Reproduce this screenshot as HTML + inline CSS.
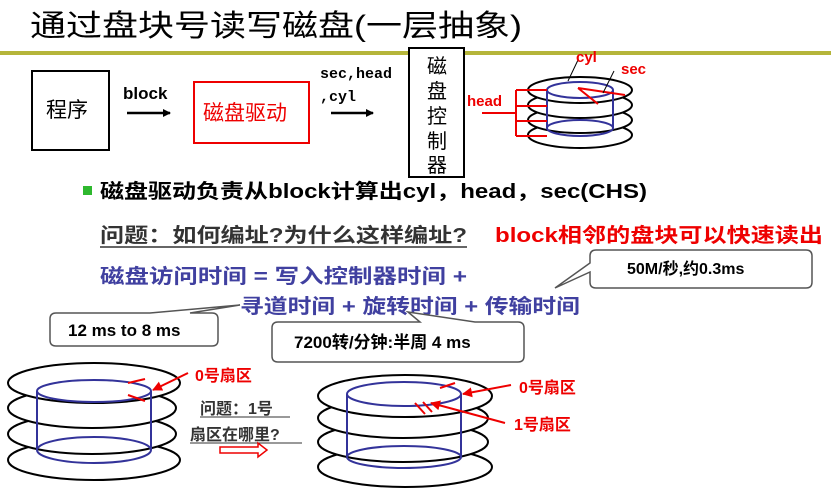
<!DOCTYPE html>
<html><head><meta charset="utf-8"><style>
body{margin:0;background:#fff;}
svg{display:block;font-family:"Liberation Sans","Noto Sans CJK SC",sans-serif;}
</style></head><body>
<svg width="831" height="492" viewBox="0 0 831 492">
<defs><marker id="ar" markerWidth="8" markerHeight="8" refX="7" refY="4" orient="auto" markerUnits="userSpaceOnUse"><path d="M0,0 L8,4 L0,8z" fill="#000"/></marker>
<marker id="rr" markerWidth="10" markerHeight="10" refX="9" refY="5" orient="auto" markerUnits="userSpaceOnUse"><path d="M0,0 L10,5 L0,10z" fill="#e00"/></marker></defs>
<text x="30" y="36" font-size="30" fill="#000" textLength="492" lengthAdjust="spacingAndGlyphs">通过盘块号读写磁盘(一层抽象)</text>
<rect x="0" y="51" width="831" height="4" fill="#b5b53a"/>
<rect x="32" y="71" width="77" height="79" fill="#fff" stroke="#000" stroke-width="2"/>
<text x="46" y="117" font-size="21">程序</text>
<text x="123" y="99" font-size="17" font-weight="bold">block</text>
<line x1="127" y1="113" x2="170" y2="113" stroke="#000" stroke-width="2.5" marker-end="url(#ar)"/>
<rect x="194" y="82" width="115" height="61" fill="#fff" stroke="#e00" stroke-width="2"/>
<text x="203" y="120" font-size="21" fill="#e00">磁盘驱动</text>
<text x="320" y="78" font-size="15" font-family="Liberation Mono,monospace" font-weight="bold">sec,head</text>
<text x="320" y="101" font-size="15" font-family="Liberation Mono,monospace" font-weight="bold">,cyl</text>
<line x1="331" y1="113" x2="373" y2="113" stroke="#000" stroke-width="2.5" marker-end="url(#ar)"/>
<rect x="409" y="48" width="55" height="129" fill="#fff" stroke="#000" stroke-width="2"/>
<g font-size="20" text-anchor="middle"><text x="437" y="73">磁</text><text x="437" y="98">盘</text><text x="437" y="123">控</text><text x="437" y="148">制</text><text x="437" y="172">器</text></g>
<g fill="#fff" stroke="#000" stroke-width="2">
<ellipse cx="580" cy="135" rx="52" ry="13"/><ellipse cx="580" cy="120" rx="52" ry="13"/><ellipse cx="580" cy="105" rx="52" ry="13"/><ellipse cx="580" cy="90" rx="52" ry="13"/></g>
<g fill="none" stroke="#33339a" stroke-width="2"><ellipse cx="580" cy="90" rx="33" ry="8"/><ellipse cx="580" cy="128" rx="33" ry="8"/><line x1="547" y1="90" x2="547" y2="128"/><line x1="613" y1="90" x2="613" y2="128"/></g>
<g stroke="#e00" stroke-width="2" fill="none"><path d="M578,88 L625,95 M578,88 L598,104"/><path d="M516,90 V136 M516,90 H547 M516,106 H547 M516,121 H547 M516,136 H547 M482,113 H516"/></g>
<g stroke="#000" stroke-width="1"><line x1="568" y1="81" x2="578" y2="60"/><line x1="603" y1="93" x2="614" y2="71"/></g>
<g fill="#e00" font-weight="bold" font-size="15"><text x="576" y="62">cyl</text><text x="621" y="74">sec</text><text x="467" y="106">head</text></g>
<rect x="83" y="186" width="9" height="9" fill="#2eb82e"/>
<text x="100" y="198" font-size="20" font-weight="bold" textLength="547" lengthAdjust="spacingAndGlyphs">磁盘驱动负责从block计算出cyl，head，sec(CHS)</text>
<text x="100" y="242" font-size="20" font-weight="bold" fill="#333" textLength="367" lengthAdjust="spacingAndGlyphs">问题：如何编址?为什么这样编址?</text>
<line x1="100" y1="247" x2="467" y2="247" stroke="#333" stroke-width="1.5"/>
<text x="495" y="242" font-size="20" font-weight="bold" fill="#e00" textLength="328" lengthAdjust="spacingAndGlyphs">block相邻的盘块可以快速读出</text>
<path d="M596,250 H806 Q812,250 812,256 V282 Q812,288 806,288 H596 Q590,288 590,282 V272 L555,288 L590,263 V256 Q590,250 596,250Z" fill="#fff" stroke="#555" stroke-width="1.5"/>
<text x="627" y="274" font-size="16" font-weight="bold">50M/秒,约0.3ms</text>
<text x="100" y="283" font-size="20" font-weight="bold" fill="#4040a0" textLength="367" lengthAdjust="spacingAndGlyphs">磁盘访问时间 =  写入控制器时间 +</text>
<text x="240" y="313" font-size="20" font-weight="bold" fill="#4040a0" textLength="340" lengthAdjust="spacingAndGlyphs">寻道时间 + 旋转时间 + 传输时间</text>
<path d="M56,313 H150 L240,305 L190,313 H212 Q218,313 218,319 V340 Q218,346 212,346 H56 Q50,346 50,340 V319 Q50,313 56,313Z" fill="#fff" stroke="#555" stroke-width="1.5"/>
<text x="68" y="336" font-size="17" font-weight="bold">12 ms to 8 ms</text>
<path d="M278,322 H420 L408,312 L475,322 H518 Q524,322 524,328 V356 Q524,362 518,362 H278 Q272,362 272,356 V328 Q272,322 278,322Z" fill="#fff" stroke="#555" stroke-width="1.5"/>
<text x="294" y="348" font-size="17" font-weight="bold">7200转/分钟:半周 4 ms</text>
<g fill="#fff" stroke="#000" stroke-width="2">
<ellipse cx="94" cy="460" rx="86" ry="20"/><ellipse cx="92" cy="434" rx="84" ry="20"/><ellipse cx="92" cy="408" rx="84" ry="20"/><ellipse cx="94" cy="383" rx="86" ry="20"/>
<ellipse cx="405" cy="467" rx="87" ry="20"/><ellipse cx="403" cy="442" rx="85" ry="20"/><ellipse cx="403" cy="418" rx="85" ry="20"/><ellipse cx="405" cy="396" rx="87" ry="21"/></g>
<g fill="none" stroke="#33339a" stroke-width="2"><ellipse cx="94" cy="391" rx="57" ry="11"/><ellipse cx="94" cy="450" rx="57" ry="13"/><line x1="37" y1="391" x2="37" y2="450"/><line x1="151" y1="391" x2="151" y2="450"/>
<ellipse cx="404" cy="394" rx="57" ry="12"/><ellipse cx="404" cy="457" rx="57" ry="11"/><line x1="347" y1="394" x2="347" y2="457"/><line x1="461" y1="394" x2="461" y2="457"/></g>
<g stroke="#e00" stroke-width="2" fill="none"><path d="M128,383 L145,379"/><path d="M128,395 L145,401"/><path d="M440,388 L455,383"/><path d="M415,403 L425,414 M423,402 L432,412"/>
<line x1="188" y1="373" x2="153" y2="390" marker-end="url(#rr)"/><line x1="511" y1="385" x2="463" y2="394" marker-end="url(#rr)"/><line x1="505" y1="423" x2="431" y2="403" marker-end="url(#rr)"/></g>
<g fill="#e00" font-weight="bold" font-size="16"><text x="195" y="381">0号扇区</text><text x="519" y="393">0号扇区</text><text x="514" y="430">1号扇区</text></g>
<g font-size="16" font-weight="bold" fill="#333"><text x="200" y="414">问题：1号</text><text x="190" y="440">扇区在哪里?</text></g>
<line x1="200" y1="417" x2="290" y2="417" stroke="#333"/><line x1="190" y1="443" x2="302" y2="443" stroke="#333"/>
<path d="M220,447 H258 V443 L267,450 L258,457 V453 H220Z" fill="#fff" stroke="#e00" stroke-width="1.5"/>
</svg>
</body></html>
